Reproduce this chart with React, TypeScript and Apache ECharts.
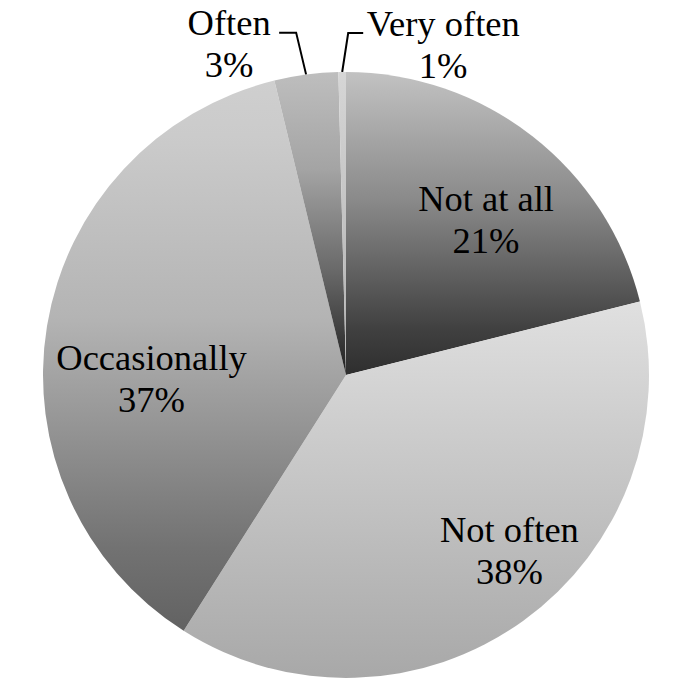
import React, { useEffect, useRef } from "react";
import * as echarts from "echarts";

// Data (share of the circle, clockwise from 12 o'clock)
const categories = ["Not at all", "Not often", "Occasionally", "Often", "Very often"];
const shares = [21.1, 37.9, 37.2, 3.4, 0.4];
const shownPercents = [21, 38, 37, 3, 1];

// Styles: vertical gradient stops per slice [offset, grey level]
const gradientStops: number[][][] = [
  [[0, 194], [0.42, 138], [0.62, 104], [0.85, 64], [1, 46]],
  [[0, 224], [1, 168]],
  [[0, 207], [0.1, 203], [0.43, 180], [0.67, 142], [0.85, 114], [1, 98]],
  [[0, 190], [0.32, 164], [0.65, 106], [1, 32]],
  [[0, 214], [1, 176]],
];
const insideShift: number[][] = [
  [45, -34],
  [73, 50],
  [-42, 29],
];

const grey = (v: number) => `rgb(${v},${v},${v})`;

export default function App() {
  const ref = useRef<HTMLDivElement>(null);

  useEffect(() => {
    if (!ref.current) return;
    const chart = echarts.init(ref.current, undefined, { renderer: "svg" });
    const data = categories.map((name, i) => ({
      name,
      value: shares[i],
      itemStyle: {
        color: {
          type: "linear",
          x: 0,
          y: 0,
          x2: 0,
          y2: 1,
          colorStops: gradientStops[i].map((s) => ({ offset: s[0], color: grey(s[1]) })),
        },
      },
      label: { position: i < 3 ? "inside" : "outside" },
      labelLine: { show: i >= 3 },
    }));

    chart.setOption({
      animation: false,
      backgroundColor: "#ffffff",
      series: [
        {
          type: "pie",
          center: [346, 375],
          radius: [0, 303],
          startAngle: 90,
          clockwise: true,
          silent: true,
          avoidLabelOverlap: false,
          data,
          label: {
            show: true,
            color: "#000000",
            fontFamily: "Liberation Serif",
            fontSize: 36.5,
            lineHeight: 42,
            align: "center",
            formatter: (p: any) => `${p.name}\n${shownPercents[p.dataIndex]}%`,
          },
          labelLine: {
            show: false,
            length: 40,
            length2: 16,
            lineStyle: { color: "#000000", width: 2 },
          },
          labelLayout: (p: any) => {
            const i = p.dataIndex;
            const r = p.labelRect;
            if (i < 3) {
              const cx = r.x + r.width / 2;
              const cy = r.y + r.height / 2;
              return {
                x: cx + insideShift[i][0],
                y: cy + insideShift[i][1],
                align: "center",
                verticalAlign: "middle",
              };
            }
            const pts = p.labelLinePoints;
            if (!pts || !pts.length) return {};
            const e = pts[0];
            if (i === 3) {
              return {
                x: e[0] - 77,
                y: e[1] - 31,
                align: "center",
                verticalAlign: "middle",
                labelLinePoints: [
                  [e[0], e[1]],
                  [e[0] - 10, e[1] - 42],
                  [e[0] - 27, e[1] - 42],
                ],
              };
            }
            return {
              x: e[0] + 101,
              y: e[1] - 28,
              align: "center",
              verticalAlign: "middle",
              labelLinePoints: [
                [e[0], e[1]],
                [e[0] + 6, e[1] - 39],
                [e[0] + 21, e[1] - 39],
              ],
            };
          },
        },
      ],
    });
    return () => chart.dispose();
  }, []);

  return (
    <div
      ref={ref}
      style={{ position: "fixed", left: 0, top: 0, width: 685, height: 693 }}
    />
  );
}
